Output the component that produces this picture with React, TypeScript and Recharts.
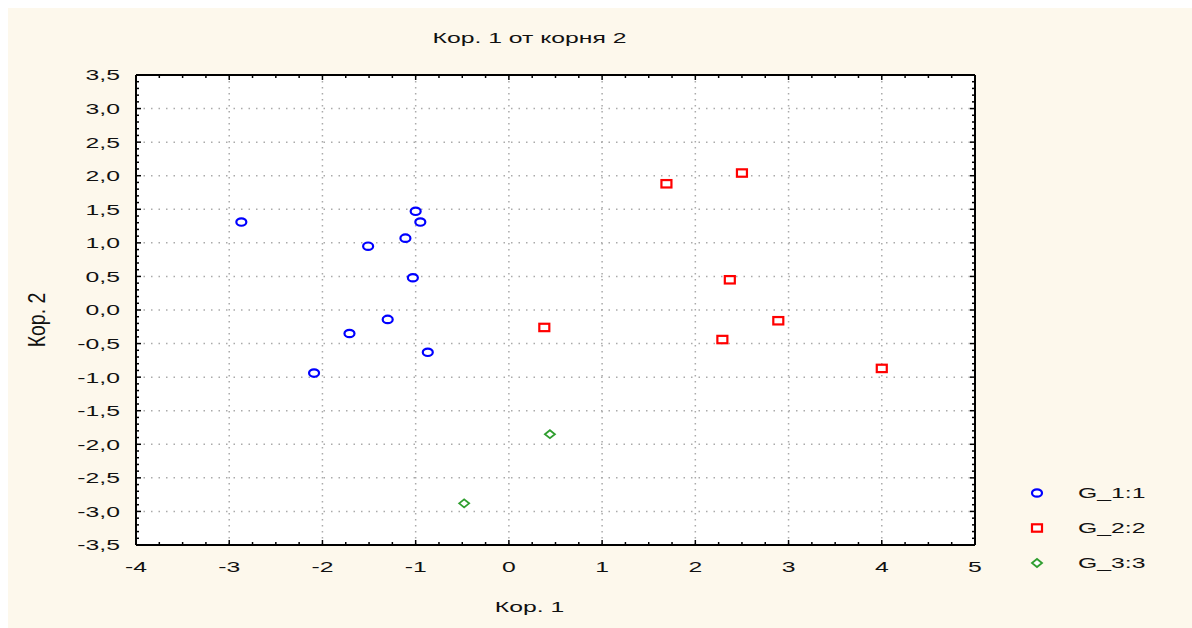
import { CartesianGrid, Legend, Scatter, ScatterChart, XAxis, YAxis } from 'recharts'

// group 1 (blue circles)
const g1X = [-2.87, -1.0, -0.95, -1.11, -1.51, -1.03, -1.3, -1.71, -0.87, -2.09]
const g1Y = [1.31, 1.47, 1.31, 1.07, 0.95, 0.48, -0.14, -0.35, -0.63, -0.94]
// group 2 (red squares)
const g2X = [1.69, 2.5, 2.37, 2.89, 2.29, 0.38, 4.0]
const g2Y = [1.88, 2.04, 0.45, -0.16, -0.44, -0.26, -0.87]
// group 3 (green diamonds)
const g3X = [0.44, -0.48]
const g3Y = [-1.85, -2.88]

const seriesNames = ['G_1:1', 'G_2:2', 'G_3:3']
const xMajor = [-4, -3, -2, -1, 0, 1, 2, 3, 4, 5]
const yMajor = [-3.5, -3, -2.5, -2, -1.5, -1, -0.5, 0, 0.5, 1, 1.5, 2, 2.5, 3, 3.5]

const title = 'Кор. 1 от корня 2'
const xTitle = 'Кор. 1'
const yTitle = 'Кор. 2'

// minor ticks: 4 per x unit, 5 per 0.5 on y
const xMinor = xMajor
  .slice(0, -1)
  .flatMap((v) => [0, 1, 2, 3].map((k) => v + k * 0.25))
  .concat(xMajor[xMajor.length - 1])
const yMinor = yMajor
  .slice(0, -1)
  .flatMap((v) => [0, 1, 2, 3, 4].map((k) => Math.round((v + k * 0.1) * 10) / 10))
  .concat(yMajor[yMajor.length - 1])

const toPoints = (xs: number[], ys: number[]) => xs.map((x, i) => ({ x, y: ys[i] }))

const FONT = '"Liberation Sans", Arial, sans-serif'
const SX = 1.65
const BG = '#fdf8ec'
const BLUE = '#0000ff'
const RED = '#ff0000'
const GREEN = '#2f9e2f'

const isMajorX = (v: number) => xMajor.some((m) => Math.abs(m - v) < 1e-6)
const isMajorY = (v: number) => yMajor.some((m) => Math.abs(m - v) < 1e-6)
const fmtY = (v: number) => v.toFixed(1).replace('.', ',')

function StretchText({ x, y, children, anchor = 'middle' }: any) {
  return (
    <text
      transform={`translate(${x},${y}) scale(${SX},1)`}
      textAnchor={anchor}
      dominantBaseline="central"
      fontSize={15}
      fontFamily={FONT}
      fill="#111"
    >
      {children}
    </text>
  )
}

function BottomTick({ x, y, payload }: any) {
  const major = isMajorX(payload.value)
  return (
    <g>
      <line x1={x} y1={y} x2={x} y2={y - (major ? 5 : 3)} stroke="#000" strokeWidth={1.5} />
      {major && (
        <StretchText x={x} y={y + 22}>
          {String(payload.value)}
        </StretchText>
      )}
    </g>
  )
}

function TopTick({ x, y, payload }: any) {
  const major = isMajorX(payload.value)
  return <line x1={x} y1={y} x2={x} y2={y + (major ? 5 : 3)} stroke="#000" strokeWidth={1.5} />
}

function LeftTick({ x, y, payload }: any) {
  const major = isMajorY(payload.value)
  return (
    <g>
      <line x1={x} y1={y} x2={x + (major ? 5 : 3)} y2={y} stroke="#000" strokeWidth={1.5} />
      {major && (
        <StretchText x={x - 16} y={y} anchor="end">
          {fmtY(payload.value)}
        </StretchText>
      )}
    </g>
  )
}

function RightTick({ x, y, payload }: any) {
  const major = isMajorY(payload.value)
  return <line x1={x} y1={y} x2={x - (major ? 5 : 3)} y2={y} stroke="#000" strokeWidth={1.5} />
}

const circleMark = (cx: number, cy: number) => (
  <ellipse cx={cx} cy={cy} rx={5} ry={3.7} fill="#fff" stroke={BLUE} strokeWidth={2.2} />
)
const squareMark = (cx: number, cy: number) => (
  <rect x={cx - 5} y={cy - 3.7} width={10} height={7.4} fill="#fff" stroke={RED} strokeWidth={2.2} />
)
const diamondMark = (cx: number, cy: number) => (
  <polygon
    points={`${cx - 5},${cy} ${cx},${cy - 4} ${cx + 5},${cy} ${cx},${cy + 4}`}
    fill="#fff"
    stroke={GREEN}
    strokeWidth={1.8}
  />
)
const markers = [circleMark, squareMark, diamondMark]

function LegendContent() {
  return (
    <svg width={150} height={110} style={{ overflow: 'visible' }}>
      {seriesNames.map((name, i) => (
        <g key={name}>
          {markers[i](9, 17 + i * 35)}
          <StretchText x={50} y={17 + i * 35} anchor="start">
            {name}
          </StretchText>
        </g>
      ))}
    </svg>
  )
}

export default function App() {
  return (
    <div style={{ position: 'absolute', left: 8, top: 8, width: 1184, height: 620, background: BG }}>
      <ScatterChart width={1184} height={620} margin={{ top: 17, right: 207, bottom: 23, left: 28 }}>
        <CartesianGrid
          xAxisId="b"
          yAxisId="l"
          fill="#fff"
          vertical={false}
          horizontalValues={yMajor.slice(1, -1)}
          stroke="#aaa"
          strokeWidth={1.5}
          strokeDasharray="1.5 6"
        />
        <CartesianGrid
          xAxisId="b"
          yAxisId="l"
          horizontal={false}
          verticalValues={xMajor.slice(1, -1)}
          stroke="#aaa"
          strokeWidth={1.5}
          strokeDasharray="1.5 4.5"
        />
        <XAxis
          xAxisId="b"
          type="number"
          dataKey="x"
          orientation="bottom"
          domain={[-4, 5]}
          ticks={xMinor}
          interval={0}
          height={60}
          tickSize={0}
          tickMargin={0}
          tick={<BottomTick />}
          axisLine={{ stroke: '#000', strokeWidth: 2 }}
          allowDataOverflow
          label={(p: any) => {
            const vb = p.viewBox
            return (
              <StretchText x={vb.x + vb.width / 2 - 26} y={vb.y + 62}>
                {xTitle}
              </StretchText>
            )
          }}
        />
        <XAxis
          xAxisId="t"
          type="number"
          dataKey="x"
          orientation="top"
          domain={[-4, 5]}
          ticks={xMinor}
          interval={0}
          height={50}
          tickSize={0}
          tickMargin={0}
          tick={<TopTick />}
          axisLine={{ stroke: '#000', strokeWidth: 2 }}
          allowDataOverflow
          label={(p: any) => {
            const vb = p.viewBox
            return (
              <StretchText x={vb.x + vb.width / 2 - 26} y={vb.y + vb.height - 37}>
                {title}
              </StretchText>
            )
          }}
        />
        <YAxis
          yAxisId="l"
          type="number"
          dataKey="y"
          orientation="left"
          domain={[-3.5, 3.5]}
          ticks={yMinor}
          interval={0}
          width={100}
          tickSize={0}
          tickMargin={0}
          tick={<LeftTick />}
          axisLine={{ stroke: '#000', strokeWidth: 2 }}
          allowDataOverflow
          label={(p: any) => {
            const vb = p.viewBox
            const cx = vb.x + vb.width - 99
            const cy = vb.y + vb.height / 2 + 10
            return (
              <text
                transform={`translate(${cx},${cy}) rotate(-90) scale(1.3,1.6)`}
                textAnchor="middle"
                dominantBaseline="central"
                fontSize={15}
                fontFamily={FONT}
                fill="#111"
              >
                {yTitle}
              </text>
            )
          }}
        />
        <YAxis
          yAxisId="r"
          type="number"
          dataKey="y"
          orientation="right"
          domain={[-3.5, 3.5]}
          ticks={yMinor}
          interval={0}
          width={10}
          tickSize={0}
          tickMargin={0}
          tick={<RightTick />}
          axisLine={{ stroke: '#000', strokeWidth: 2 }}
          allowDataOverflow
        />
        <Scatter
          name={seriesNames[0]}
          xAxisId="b"
          yAxisId="l"
          data={toPoints(g1X, g1Y)}
          fill={BLUE}
          isAnimationActive={false}
          shape={(p: any) => circleMark(p.cx, p.cy)}
        />
        <Scatter
          name={seriesNames[1]}
          xAxisId="b"
          yAxisId="l"
          data={toPoints(g2X, g2Y)}
          fill={RED}
          isAnimationActive={false}
          shape={(p: any) => squareMark(p.cx, p.cy)}
        />
        <Scatter
          name={seriesNames[2]}
          xAxisId="b"
          yAxisId="l"
          data={toPoints(g3X, g3Y)}
          fill={GREEN}
          isAnimationActive={false}
          shape={(p: any) => diamondMark(p.cx, p.cy)}
        />
        <Legend
          layout="vertical"
          align="center"
          verticalAlign="middle"
          wrapperStyle={{ left: 1020, top: 468, width: 150, height: 110 }}
          content={() => <LegendContent />}
        />
      </ScatterChart>
    </div>
  )
}
